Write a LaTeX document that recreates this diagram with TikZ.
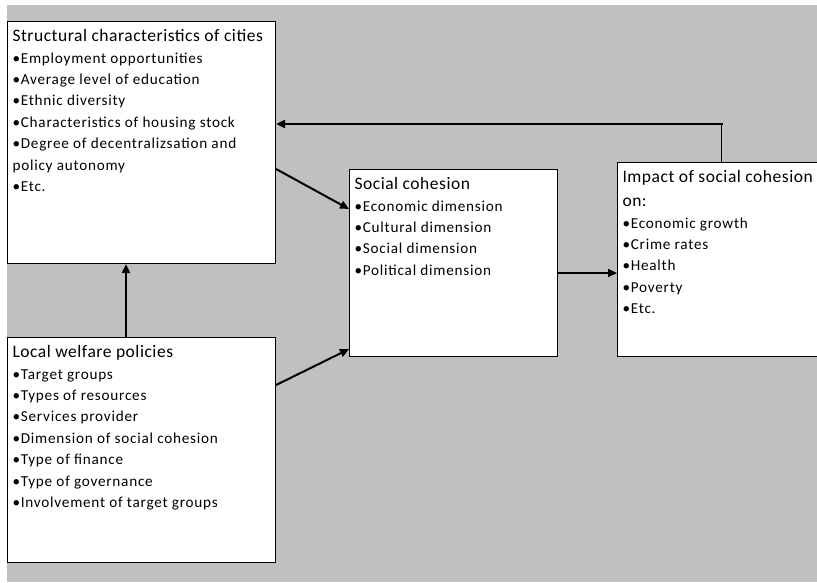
\documentclass[tikz,border=0pt]{standalone}
\usepackage{fontspec}
\setmainfont[LetterSpace=3]{Carlito}
\newfontfamily\itemfont[LetterSpace=5]{Carlito}
\usetikzlibrary{arrows.meta}

\definecolor{bggray}{RGB}{192,192,192}

\tikzset{
  box/.style={draw, fill=white, line width=1.1pt, anchor=north west,
    inner xsep=5pt, inner ysep=8pt},
  link/.style={line width=2pt, -{Triangle[length=9pt,width=8pt]}},
  plain/.style={line width=1.1pt},
}

% box body: width, height, title, items
\newcommand{\boxbody}[4]{\parbox[t][#2][t]{#1}{\raggedright
  {\fontsize{17.5}{24}\selectfont #3\par}
  \itemfont\fontsize{15.2}{21.4}\selectfont #4\par}}

\begin{document}
\begin{tikzpicture}[x=1pt, y=-1pt]
\useasboundingbox (0,0) rectangle (817,582);
\fill[bggray] (7,5) rectangle (817,582);

\node[box] (struct) at (7,21) {\boxbody{258pt}{226pt}{Structural characteristics of cities}{%
  •Employment opportunities\\
  •Average level of education\\
  •Ethnic diversity\\
  •Characteristics of housing stock\\
  •Degree of decentralizsation and\\
  policy autonomy\\
  •Etc.}};
\node[box] (welfare) at (7,337) {\boxbody{258pt}{209pt}{Local welfare policies}{%
  •Target groups\\
  •Types of resources\\
  •Services provider\\
  •Dimension of social cohesion\\
  •Type of finance\\
  •Type of governance\\
  •Involvement of target groups}};
\node[box] (social) at (349,169) {\boxbody{198pt}{171pt}{Social cohesion}{%
  •Economic dimension\\
  •Cultural dimension\\
  •Social dimension\\
  •Political dimension}};
\node[box] (impact) at (617,162) {\boxbody{198pt}{178pt}{Impact of social cohesion\\on:}{%
  •Economic growth\\
  •Crime rates\\
  •Health\\
  •Poverty\\
  •Etc.}};

\coordinate (bend) at (impact.north |- 0,124);

% connectors
\draw[link] ([xshift=119pt]welfare.north west) -- ([xshift=119pt]struct.south west);
\draw[link] ([yshift=-148pt]struct.north east) -- ([yshift=-40pt]social.north west);
\draw[link] ([yshift=-48pt]welfare.north east) -- ([yshift=8pt]social.south west);
\draw[link] ([yshift=-104pt]social.north east) -- ([yshift=-111pt]impact.north west);
\draw[plain] (impact.north) -- (bend);
\draw[link] ([xshift=1pt]bend) -- (bend -| struct.east);
\end{tikzpicture}
\end{document}
